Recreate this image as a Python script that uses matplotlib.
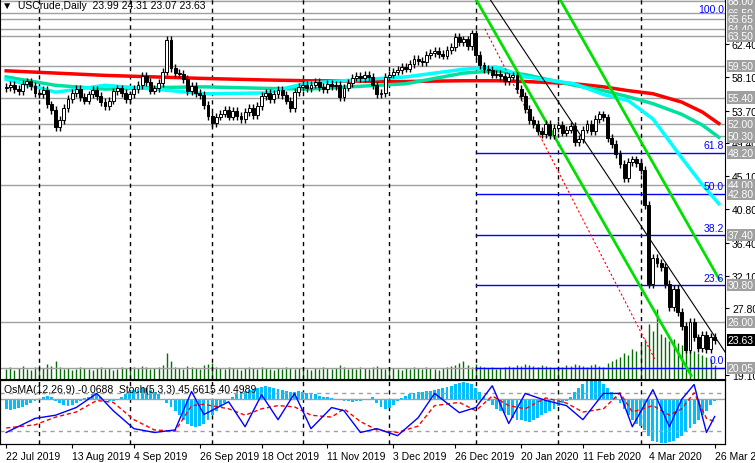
import matplotlib
matplotlib.use("Agg")
import matplotlib.pyplot as plt
from matplotlib.patches import Rectangle
import numpy as np

closes = [56.8,57.0,56.5,56.2,57.2,57.5,56.9,56.0,55.8,56.4,
          54.5,53.8,51.5,52.5,54.0,55.2,56.0,56.5,55.5,55.0,
          55.8,56.4,55.6,54.8,54.3,55.0,56.2,56.6,56.0,55.2,
          55.8,56.5,57.0,58.2,57.4,56.3,56.6,57.3,58.8,62.9,
          59.3,58.6,58.5,57.8,56.2,56.9,56.0,55.7,54.4,53.0,
          52.1,52.9,53.3,53.8,52.9,53.6,53.0,52.6,53.5,54.0,
          53.1,54.3,55.6,56.0,55.2,55.9,56.4,55.7,55.0,54.0,
          56.1,56.8,57.0,56.6,57.1,57.4,56.8,56.5,57.2,56.9,
          57.1,55.5,56.7,57.3,58.0,58.2,57.9,58.4,58.1,57.0,
          55.8,56.0,58.1,58.4,58.8,59.0,59.4,59.2,59.8,60.5,
          60.2,60.0,61.0,61.2,61.5,61.1,60.9,61.6,62.0,63.3,
          62.7,63.0,62.1,63.8,61.0,59.6,59.1,59.0,58.4,58.5,
          58.2,57.6,58.1,58.3,56.5,55.6,53.9,52.5,51.9,51.0,
          50.6,51.9,50.5,51.4,51.8,50.8,51.2,51.7,49.6,50.0,
          51.2,51.9,51.0,52.6,53.2,52.8,50.1,49.3,48.0,46.7,
          44.8,47.0,47.3,46.8,45.9,41.3,31.0,34.4,33.7,33.2,
          31.0,28.0,30.3,27.3,25.5,22.4,26.0,24.0,22.6,24.3,
          22.5,24.1,23.63]
first_open = 56.6
wick = 0.5

volume = [10,12,9,11,13,10,9,12,14,11, 15,13,18,12,10,11,9,10,12,11,
          10,9,11,12,10,11,9,10,12,11, 10,12,11,13,12,10,11,12,14,26,
          18,12,11,10,13,12,11,10,14,15, 16,12,11,10,12,11,10,9,11,12,
          11,10,12,11,10,9,11,10,12,11, 10,11,12,10,9,11,10,12,11,10,
          11,14,12,10,11,10,12,11,10,12, 13,11,10,12,11,10,9,11,10,12,
          11,10,12,11,10,9,11,12,13,14, 16,18,14,12,15,13,12,11,12,10,
          11,12,13,12,14,13,15,14,13,12, 14,13,12,11,13,12,14,13,15,14,
          13,12,14,15,13,12,16,18,20,22, 26,24,30,28,34,40,55,48,70,45,
          42,38,40,36,34,30,32,28,26,24, 22,20,14]

osma = [-0.5,-0.55,-0.5,-0.45,-0.4,-0.3,-0.2,-0.1,0.0,0.1,
        0.15,0.1,-0.1,-0.2,-0.3,-0.35,-0.3,-0.2,-0.1,0.05,
        0.1,0.2,0.2,0.1,0.0,-0.1,-0.1,0.0,0.1,0.2,
        0.35,0.4,0.45,0.5,0.5,0.4,0.3,0.2,0.0,-0.2,
        -0.4,-0.6,-0.8,-1.0,-1.2,-1.3,-1.35,-1.3,-1.2,-1.0,
        -0.8,-0.6,-0.4,-0.2,0.0,0.1,0.2,0.3,0.35,0.4,
        0.45,0.5,0.55,0.6,0.55,0.5,0.45,0.4,0.35,0.3,
        0.3,0.35,0.3,0.25,0.2,0.2,0.15,0.1,0.1,0.05,
        0.0,-0.05,-0.1,-0.1,-0.15,-0.1,-0.1,-0.05,0.0,0.1,
        -0.2,-0.4,-0.5,-0.45,-0.3,-0.1,0.05,0.15,0.2,0.25,
        0.3,0.3,0.35,0.35,0.4,0.45,0.5,0.55,0.6,0.7,
        0.75,0.8,0.75,0.7,0.5,0.3,0.1,-0.1,-0.3,-0.5,
        -0.6,-0.7,-0.8,-0.9,-1.0,-1.0,-1.05,-1.1,-1.0,-0.9,
        -0.8,-0.7,-0.6,-0.5,-0.35,-0.2,-0.1,0.1,0.3,0.5,
        0.7,0.85,0.9,0.9,0.85,0.7,0.5,0.3,0.1,-0.2,
        -0.5,-0.8,-1.0,-1.2,-1.3,-1.5,-1.8,-2.0,-2.05,-2.1,
        -2.1,-2.05,-2.0,-1.9,-1.8,-1.6,-1.4,-1.2,-1.0,-0.8,
        -0.6,-0.3,-0.1]

stoch_idx = [0,7,12,17,22,26,31,36,41,45,48,54,58,62,66,70,74,79,82,86,90,95,100,104,110,114,118,122,126,131,
             136,140,145,149,152,157,161,164,167,170,172]
stoch_k = [18,40,45,57,79,52,24,18,22,82,46,66,27,77,38,79,24,57,52,18,24,13,41,79,49,57,91,32,79,68,
           60,38,79,79,27,85,27,70,93,18,43]
stoch_d = [25,30,42,50,68,65,38,22,20,60,62,55,45,55,60,58,45,42,55,35,22,18,28,60,65,52,75,60,55,72,
           64,50,55,80,50,60,45,55,80,40,35]

ma_idx = [0,12,24,36,48,63,73,97,111,119,126,138,145,151,157,164,169,173]
ma_red   = [58.9,58.6,58.3,58.1,57.9,57.7,57.6,57.5,57.6,57.6,57.5,57.2,56.8,56.3,55.9,54.8,53.5,52.0]
ma_green = [58.1,57.0,56.5,56.7,56.8,56.6,56.5,57.2,58.6,58.9,58.4,57.0,56.3,55.5,54.6,53.2,51.8,50.2]
ma_cyan  = [57.8,56.1,57.0,56.5,55.9,56.0,57.3,58.1,59.1,59.4,58.1,57.2,55.8,55.0,52.6,47.5,44.0,41.5]

gray_levels = [68.00,66.50,65.65,64.40,63.50,59.50,55.40,52.00,50.30,44.00,26.00,20.05]
box_levels = [68.00,66.50,65.65,64.40,63.50,59.50,55.40,52.00,50.30,48.20,44.00,42.80,37.40,30.80,26.00,20.05]
fib_levels = [48.20,42.80,37.40,30.80,20.05]
fib_labels = ["61.8","50.0","38.2","23.6","0.0"]
price_ticks = [62.40,58.10,53.70,49.40,45.10,40.80,36.40,32.10,27.80,19.10]
last_price = 23.63

sep_idx = [8,30,50,72,93,114,134,154]
date_idx = [0,16,31,47,62,78,94,109,125,140,156,172]
date_labels = ["22 Jul 2019","13 Aug 2019","4 Sep 2019","26 Sep 2019","18 Oct 2019","11 Nov 2019",
               "3 Dec 2019","26 Dec 2019","20 Jan 2020","11 Feb 2020","4 Mar 2020","26 Mar 2020"]

green_up = [(134.4,68.3),(173.1,31.6)]
green_lo = [(114.0,68.3),(166.3,19.0)]
black_ln = [(117.4,68.3),(175.5,21.3)]
red_dash = [(116.2,64.4),(157.4,21.2)]

FS = 7.5
plt.rcParams['font.family'] = ['Liberation Sans', 'DejaVu Sans']
fig = plt.figure(figsize=(7.55,4.64), dpi=100)
W = 725/755
ax = fig.add_axes([0.0, 1-380/464, W, 380/464])
axi = fig.add_axes([0.0, 1-445/464, W, 64/464])
n = len(closes)
xmin, xmax = -1.5, 174.5
ymin, ymax = 18.55, 68.3
ax.set_xlim(xmin, xmax); ax.set_ylim(ymin, ymax)

axv = ax.twinx()
axv.set_ylim(0, 380)
axv.vlines(np.arange(n), 0, volume, color='#007000', lw=1)
axv.set_axis_off()
axv.set_zorder(0); ax.set_zorder(1); ax.patch.set_visible(False)

for lv in gray_levels:
    ax.axhline(lv, color='#a0a0a0', lw=1, zorder=1)
for lv, lb in zip(fib_levels, fib_labels):
    ax.plot([114, xmax], [lv, lv], color='#0000ff', lw=1, zorder=2)
    ax.text(174.3, lv+0.3, lb, color='#0000ff', fontsize=FS, ha='right', va='bottom', zorder=5)
ax.text(174.3, 66.3, "100.0", color='#0000ff', fontsize=FS, ha='right', va='bottom')
for s in sep_idx:
    ax.axvline(s, color='black', ls=(0,(3,3)), lw=1, zorder=1)

ax.plot(ma_idx, ma_red, color='#ff0000', lw=2.5, zorder=3)
ax.plot(ma_idx, ma_green, color='#00e0a0', lw=2.5, zorder=3)
ax.plot(ma_idx, ma_cyan, color='#00ffff', lw=2.5, zorder=3)

for ln, c, lw in [(green_up,'#00e000',2),(green_lo,'#00e000',2),(black_ln,'black',0.8)]:
    ax.plot([p[0] for p in ln],[p[1] for p in ln], color=c, lw=lw, zorder=4)
ax.plot([p[0] for p in red_dash],[p[1] for p in red_dash], color='red', lw=0.8, ls=(0,(2,2)), zorder=4)

opens = [first_open] + closes[:-1]
for i,(o,c) in enumerate(zip(opens, closes)):
    hi = max(o,c)+wick; lo = min(o,c)-wick
    ax.vlines(i, lo, hi, color='black', lw=1, zorder=5)
    ax.add_patch(Rectangle((i-0.35, min(o,c)), 0.7, max(abs(c-o),0.08),
                 facecolor='black' if c<o else 'white', edgecolor='black', lw=0.7, zorder=6))

ax.yaxis.tick_right()
ax.set_yticks(price_ticks)
ax.set_yticklabels([f"{t:.2f}" for t in price_ticks], fontsize=FS)
ax.tick_params(axis='y', length=3, pad=2)
ax.set_xticks([])
for lv in box_levels:
    ax.text(1.004, (lv-ymin)/(ymax-ymin), f"{lv:.2f}", transform=ax.transAxes, fontsize=FS,
            color='white', va='center', ha='left',
            bbox=dict(boxstyle='square,pad=0.1', fc='#a0a0a0', ec='none'), zorder=10, clip_on=False)
ax.text(1.004, (last_price-ymin)/(ymax-ymin), f"{last_price:.2f}", transform=ax.transAxes, fontsize=FS,
        color='white', va='center', ha='left', bbox=dict(boxstyle='square,pad=0.1', fc='black', ec='none'),
        clip_on=False, zorder=11)
ax.text(0.003, 0.997, "\u25bc  USCrude,Daily  23.99 24.31 23.07 23.63", transform=ax.transAxes,
        fontsize=FS, va='top', ha='left', family=['DejaVu Sans'] if False else None)

axi.set_xlim(xmin, xmax)
axi.set_ylim(-2.164, 0.8912)
axi.bar(np.arange(n), osma, width=0.7, color='#00bfff', zorder=2)
axi.axhline(0, color='#a0a0a0', lw=1)
for s in sep_idx:
    axi.axvline(s, color='black', ls=(0,(3,3)), lw=1, zorder=1)
axi.yaxis.tick_right()
axi.set_yticks([0.8912, 0.0, -2.164])
axi.set_yticklabels(["0.8912","0.00","-2.164"], fontsize=FS)
axi.tick_params(axis='y', length=3, pad=2)
axs = axi.twinx()
axs.set_ylim(0, 100)
axs.axhline(80, color='#a0a0a0', ls=(0,(3,3)), lw=1)
axs.axhline(20, color='#a0a0a0', ls=(0,(3,3)), lw=1)
axs.plot(stoch_idx, stoch_d, color='red', ls=(0,(3,2)), lw=1)
axs.plot(stoch_idx, stoch_k, color='#0000ff', lw=1)
axs.set_yticks([])
axs.tick_params(right=False)
axi.text(0.005, 0.93, "OsMA(12,26,9) -0.0688  Stoch(5,3,3) 45.6615 40.4989", transform=axi.transAxes,
         fontsize=FS, va='top', ha='left', zorder=10)
axi.set_xticks(date_idx)
axi.set_xticklabels(date_labels, fontsize=FS, ha='left')
axi.tick_params(axis='x', length=3, pad=2)
fig.savefig("out.png", dpi=100)
